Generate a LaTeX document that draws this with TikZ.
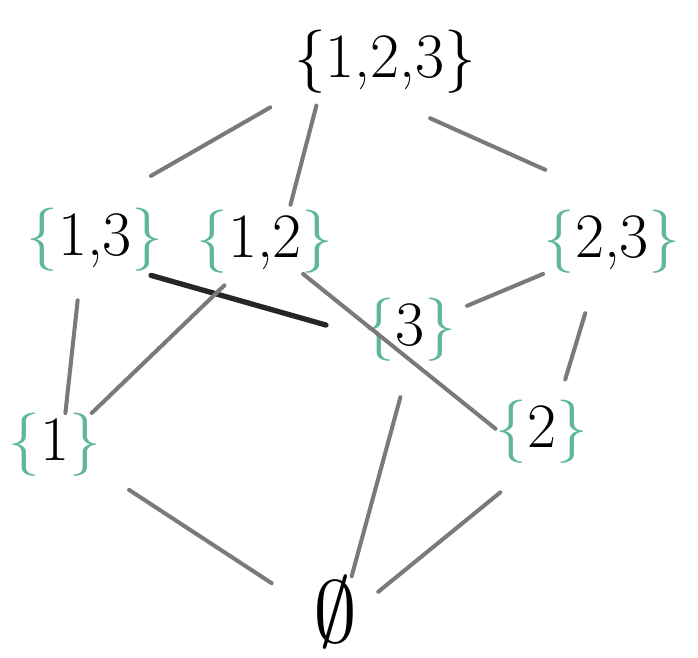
\documentclass[tikz,border=0pt]{standalone}
\usepackage{xcolor}
\usepackage{graphicx}
\usepackage{tikz}
\usetikzlibrary{arrows.meta,positioning}
\definecolor{mint}{HTML}{5DB893}
\definecolor{pencil}{HTML}{7A7A7A}
\newcommand{\gset}[1]{\textcolor{mint}{\{}#1\textcolor{mint}{\}}}

\begin{document}
\begin{tikzpicture}[x=0.02cm, y=-0.02cm, every node/.style={font=\fontsize{36}{40}\selectfont, inner sep=0pt}, link/.style={draw=pencil, line width=2.3pt, line cap=round}, ink/.style={link, draw=black!85, line width=3pt}]
\useasboundingbox (0,0) rectangle (698,658);
\node (top) at (385,62) {\{1,2,3\}};
\node (s13) at (95,240) {\gset{1,3}};
\node (s12) at (265,242) {\gset{1,2}};
\node (s23) at (612,242) {\gset{2,3}};
\node (s3) at (410,330) {\gset{3}};
\node (s1) at (55,445) {\gset{1}};
\node (s2) at (542,432) {\gset{2}};
\node[font=\normalsize] (empty) at (335,612) {\scalebox{5}{$\emptyset$}};
\draw[link, shorten <=0.54cm, shorten >=1.29cm] (top.south west) -- (s13.north);
\draw[link, shorten <=0.24cm, shorten >=0.11cm] (top.206) -- (s12.53);
\draw[link, shorten <=1.19cm, shorten >=1.97cm] (top.254) -- (s23.54);
\draw[link, shorten <=0.57cm] (s13.246) -- (s1.72);
\draw[ink, shorten <=0.25cm, shorten >=0.78cm] (s13.324) -- (s3.187);
\draw[link, shorten <=0.33cm] (s12.228) -- (s1.41);
\draw[link] (s12.320) -- (s2.176);
\draw[link, shorten <=0.23cm] (s3.23) -- (s23.south west);
\draw[link, shorten <=0.82cm, shorten >=0.43cm] (s23.245) -- (s2.62);
\draw[link, shorten <=0.66cm, shorten >=0.98cm] (s1.330) -- (empty.175);
\draw[link, shorten <=0.9cm, shorten >=0.54cm] (s2.258) -- (empty.8);
\draw[link, shorten <=0.73cm] (s3.south) -- (empty.65);
\end{tikzpicture}
\end{document}
